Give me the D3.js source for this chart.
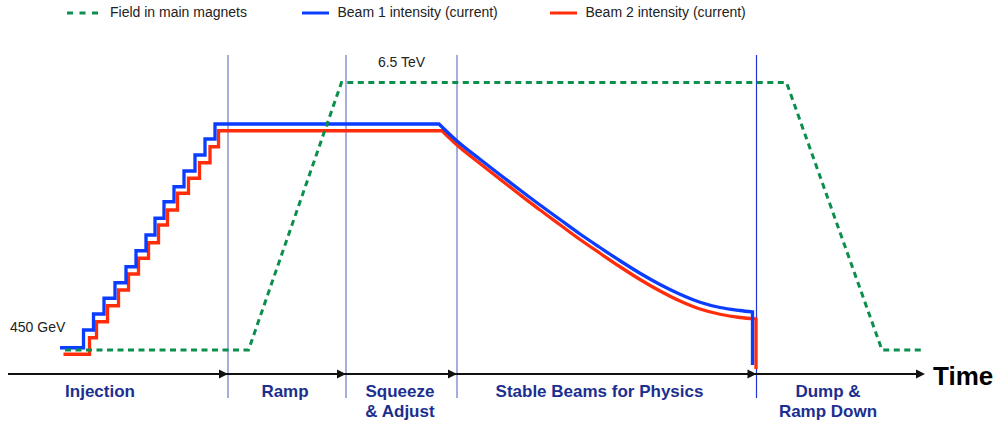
<!DOCTYPE html>
<html>
<head>
<meta charset="utf-8">
<script src="https://cdn.jsdelivr.net/npm/d3@7"></script>
<style>
  html, body { margin: 0; padding: 0; background: #fff; }
  svg { display: block; font-family: "Liberation Sans", Arial, Helvetica, sans-serif; }
</style>
</head>
<body>
<svg id="chart" width="998" height="421"></svg>
<script>
// ---------------- DATA ----------------
// time in arbitrary units (t), beam intensity in % of full, field in GeV
const legendItems = ["Field in main magnets", "Beam 1 intensity (current)", "Beam 2 intensity (current)"];

const phaseBounds = [43.6, 67.2, 89.4, 149.3];           // end of each phase (t)
const axisEnd = 183;
const phaseNames = [["Injection"], ["Ramp"], ["Squeeze", "& Adjust"], ["Stable Beams for Physics"], ["Dump &", "Ramp Down"]];
const phaseLabelT = [18, 55, 78, 117.9, 163.6];

// injection steps: [t, intensity %]
const beam1Steps = [[10, 10.5], [14.7, 17.6], [16.7, 24.0], [18.8, 30.3], [21, 36.5], [23.2, 42.9], [25.2, 49.3],
  [27.2, 55.6], [29, 62.3], [30.8, 68.9], [32.8, 74.9], [34.8, 81.2], [37, 87.6], [39, 94.0], [41, 100], [85.8, 100]];
const beam2Steps = [[10.7, 7.9], [15.9, 14.5], [17.3, 20.9], [19.5, 27.3], [21.7, 33.6], [23.7, 40.0], [25.7, 46.3],
  [27.7, 52.5], [29.7, 59.6], [31.5, 65.6], [33.5, 72.3], [35.7, 78.3], [37.9, 84.5], [40, 90.9], [41.7, 97.3], [86.4, 97.3]];

// decay during squeeze / stable beams: [t, intensity %]
const beam1Decay = [[85.8, 100], [89.4, 93.2], [94, 85.9], [98, 79.7], [102, 73.6], [106, 67.6], [110, 61.8], [114, 56.0],
  [118, 50.6], [122, 45.3], [126, 40.3], [130, 35.8], [134, 31.9], [138, 28.7], [142, 26.6], [146, 25.4], [148.5, 24.8]];
const beam2Decay = [[86.4, 97.3], [89.4, 91.6], [94, 84.2], [98, 77.9], [102, 71.7], [106, 65.6], [110, 59.7], [114, 53.8],
  [118, 48.3], [122, 42.9], [126, 37.8], [130, 33.2], [134, 29.2], [138, 26.0], [142, 23.9], [146, 22.6], [149.2, 22.0]];

// beam dump: [t, intensity %]
const beam1Dump = [[148.5, 24.8], [148.5, 3.6]];
const beam2Dump = [[149.2, 22.0], [149.2, 2.0]];

// magnet field: [t, GeV]
const field = [[11, 450], [47.7, 450], [66.3, 6500], [155.3, 6500], [174.4, 450], [182.3, 450]];
const injectionEnergy = "450 GeV";
const topEnergy = "6.5 TeV";

// ---------------- CHART ----------------
const svg = d3.select("#chart");
const x = d3.scaleLinear().domain([0, axisEnd]).range([10, 925]);
const y = d3.scaleLinear().domain([0, 100]).range([374, 124]);
const e = d3.scaleLinear().domain([450, 6500]).range([350, 82.5]);
const axisY = y(0);

const C_BLUE = "#0a3dff", C_RED = "#ff2d0a", C_GREEN = "#0a8f4c", C_PHASE = "#6b78c6", C_LABEL = "#1c2f8f";

// phase separator lines
svg.append("g").selectAll("line").data(phaseBounds).join("line")
  .attr("x1", d => x(d)).attr("x2", d => x(d))
  .attr("y1", 55).attr("y2", 398)
  .attr("stroke", (d, i) => i === phaseBounds.length - 1 ? "#2236d0" : C_PHASE)
  .attr("stroke-width", 1.2);

// beams
function beamPath(steps, decay, dump) {
  const p1 = d3.line().x(d => x(d[0])).y(d => y(d[1])).curve(d3.curveStepAfter)(steps);
  const p2 = d3.line().x(d => x(d[0])).y(d => y(d[1])).curve(d3.curveMonotoneX)(decay).replace(/^M/, "L");
  const p3 = d3.line().x(d => x(d[0])).y(d => y(d[1]))(dump).replace(/^M/, "L");
  return p1 + p2 + p3;
}
svg.append("path").attr("d", beamPath(beam2Steps, beam2Decay, beam2Dump))
  .attr("fill", "none").attr("stroke", C_RED).attr("stroke-width", 3.3).attr("stroke-linejoin", "miter");
svg.append("path").attr("d", beamPath(beam1Steps, beam1Decay, beam1Dump))
  .attr("fill", "none").attr("stroke", C_BLUE).attr("stroke-width", 3.3).attr("stroke-linejoin", "miter");

// field
svg.append("path")
  .attr("d", d3.line().x(d => x(d[0])).y(d => e(d[1]))(field))
  .attr("fill", "none").attr("stroke", C_GREEN).attr("stroke-width", 3)
  .attr("stroke-dasharray", "6,4.5");

// time axis with arrows
const axisStops = [0].concat(phaseBounds, [axisEnd]);
const axisG = svg.append("g");
axisG.append("line").attr("x1", x(0) - 2).attr("x2", x(axisEnd) - 4)
  .attr("y1", axisY).attr("y2", axisY).attr("stroke", "#111").attr("stroke-width", 2);
axisG.selectAll("path").data(axisStops.slice(1)).join("path")
  .attr("d", d => `M${x(d)},${axisY}L${x(d) - 9},${axisY - 4.5}L${x(d) - 9},${axisY + 4.5}Z`)
  .attr("fill", "#111");

svg.append("text").attr("x", x(axisEnd) + 8).attr("y", axisY + 11)
  .attr("font-size", 26).attr("font-weight", "bold").attr("fill", "#000").text("Time");

// phase labels
const lab = svg.append("g").selectAll("text").data(phaseNames).join("text")
  .attr("text-anchor", "middle").attr("font-size", 17).attr("font-weight", "bold").attr("fill", C_LABEL)
  .attr("x", (d, i) => x(phaseLabelT[i])).attr("y", 396.5);
lab.selectAll("tspan").data(d => d).join("tspan")
  .attr("x", function () { return d3.select(this.parentNode).attr("x"); })
  .attr("dy", (d, i) => i === 0 ? 0 : 20.5).text(d => d);

// energy labels
svg.append("text").attr("x", x(0)).attr("y", e(450) - 18.5)
  .attr("font-size", 14).attr("fill", "#222").text(injectionEnergy);
svg.append("text").attr("x", x(78.3)).attr("y", e(6500) - 16)
  .attr("text-anchor", "middle").attr("font-size", 14).attr("fill", "#222").text(topEnergy);

// legend
const legendX = [67, 302, 550];
const legendColors = [C_GREEN, C_BLUE, C_RED];
const lg = svg.append("g").selectAll("g").data(legendItems).join("g")
  .attr("transform", (d, i) => `translate(${legendX[i]},13)`);
lg.append("line").attr("x1", 0).attr("x2", (d, i) => i === 0 ? 31 : 27).attr("y1", 0).attr("y2", 0)
  .attr("stroke", (d, i) => legendColors[i]).attr("stroke-width", 3)
  .attr("stroke-dasharray", (d, i) => i === 0 ? "6,6.5" : null);
lg.append("text").attr("x", (d, i) => i === 0 ? 43 : 35.5).attr("y", 3.8)
  .attr("font-size", 14).attr("fill", "#222").text(d => d);
</script>
</body>
</html>
